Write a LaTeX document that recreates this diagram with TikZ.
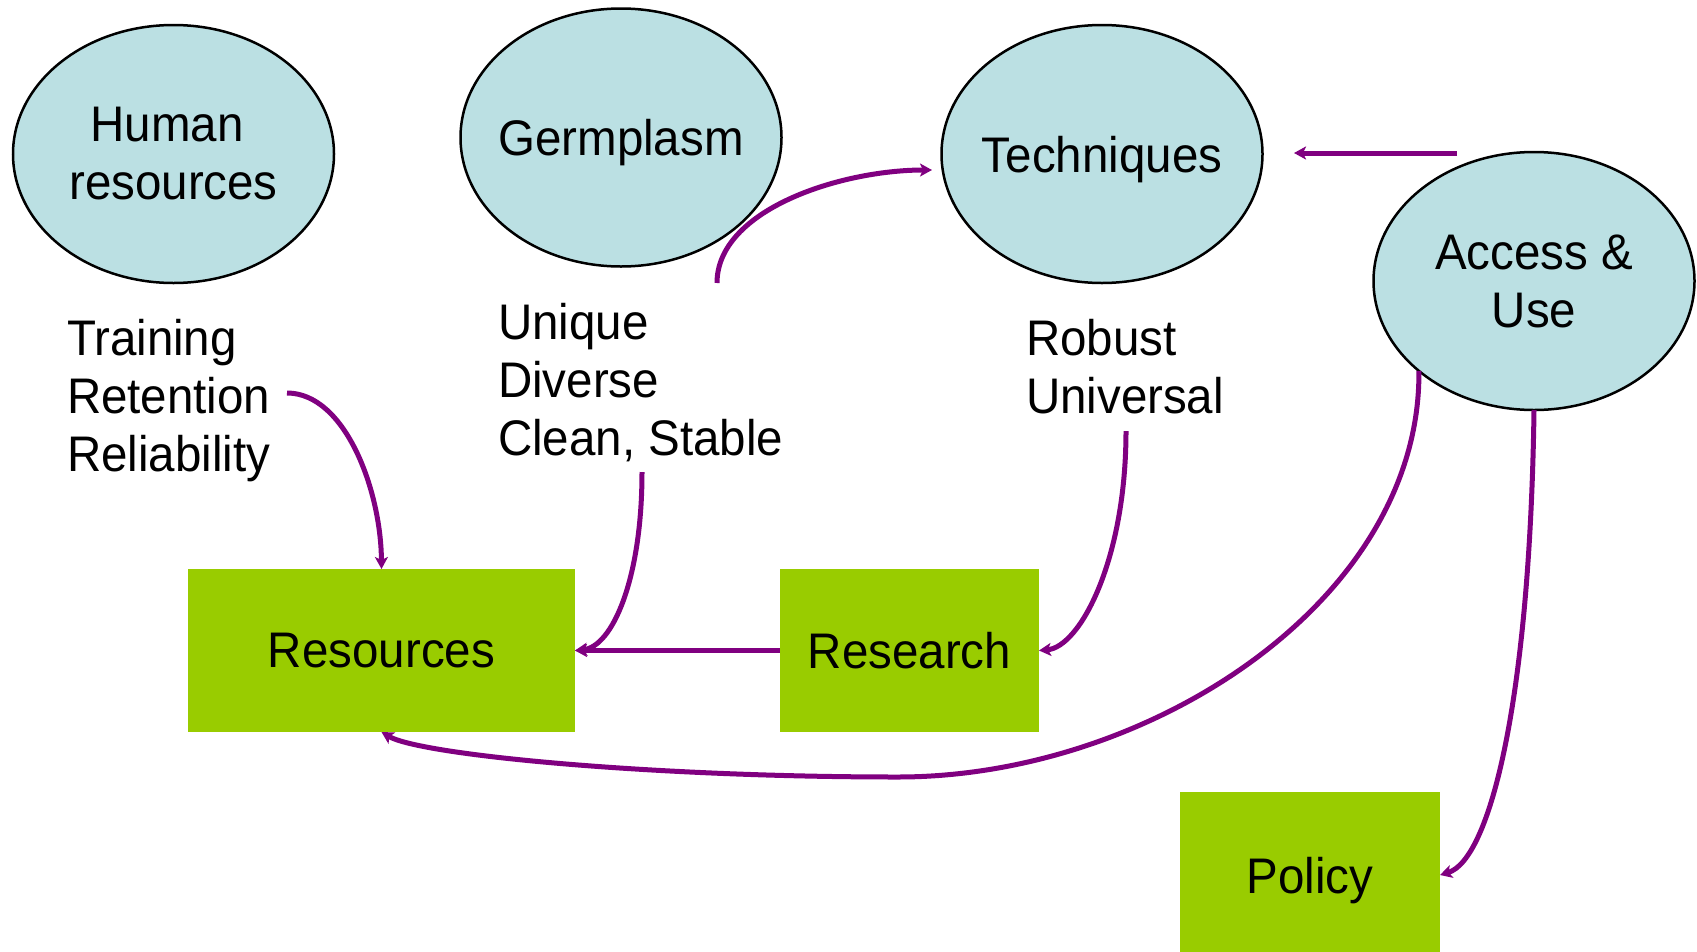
\documentclass[tikz,border=0pt]{standalone}
\usepackage{fontspec}
\setmainfont{Liberation Sans}[FakeStretch=0.95]
\usetikzlibrary{shapes.geometric,arrows.meta}
\definecolor{ellfill}{HTML}{BBE0E3}
\definecolor{boxgreen}{HTML}{99CC00}
\definecolor{arrowpurple}{HTML}{800080}
\begin{document}
\begin{tikzpicture}[x=1pt,y=-1pt,
  every node/.style={font=\fontsize{50}{58}\selectfont, inner sep=0pt, outer sep=0pt},
  oval/.style={ellipse, draw=black, line width=2.5pt, fill=ellfill, inner xsep=-60pt, minimum width=321pt, minimum height=258pt, align=center},
  greenbox/.style={rectangle, fill=boxgreen, text depth=0pt},
  textblock/.style={align=left, anchor=north west},
  conn/.style={draw=arrowpurple, line width=5pt, -{Stealth[length=12pt,width=13pt,inset=3pt]}}]
\clip (0,0) rectangle (1697,951);
\fill[white] (0,0) rectangle (1697,951);
% ellipses
\node[oval] (human) at (173.5,154) {Human\hspace*{13pt}\\resources};
\node[oval, text depth=0pt] (germ) at (621,137.5) {Germplasm};
\node[oval, text depth=0pt] (tech) at (1102,154) {Techniques};
\node[oval] (access) at (1534,281) {Access \&\\Use};
% boxes
\node[greenbox, minimum width=387pt, minimum height=163pt] (resources) at (381.5,650.5) {Resources};
\node[greenbox, minimum width=259pt, minimum height=163pt] (research) at (909.5,650.5) {Research};
\node[greenbox, minimum width=260pt, minimum height=166pt] (policy) at (1310,875) {Policy};
% text blocks
\node[textblock] (hrtext) at (67,319) {Training\\Retention\\Reliability};
\node[textblock] (germtext) at (498,303) {Unique\\Diverse\\Clean, Stable};
\node[textblock] (techtext) at (1026,319) {Robust\\Universal};
% free ends
\coordinate (c1) at (287,393);
\coordinate (c2) at (642,472);
\coordinate (c4) at (1126,431);
\coordinate (c5s) at (717,283);
\coordinate (c5e) at (932,170);
\coordinate (c6s) at (1457,153);
\coordinate (c6e) at (1294,153);
\coordinate (c7m) at (898,777);
% connectors
\draw[conn] (c1) .. controls (345,393) and (381,490) .. (resources.north);
\draw[conn] (c2) .. controls (642,580) and (612,647) .. (resources.east);
\draw[conn] (research.west) -- (resources.east);
\draw[conn] (c4) .. controls (1126,560) and (1080,647) .. (research.east);
\draw[conn] (c5s) .. controls (717,210) and (840,170) .. (c5e);
\draw[conn] (c6s) -- (c6e);
\draw[conn] (access.218) .. controls (1421,600) and (1150,777) .. (c7m) .. controls (650,777) and (420,755) .. (resources.south);
\draw[conn] (access.south) .. controls (1530,700) and (1490,860) .. (policy.east);
\end{tikzpicture}
\end{document}
